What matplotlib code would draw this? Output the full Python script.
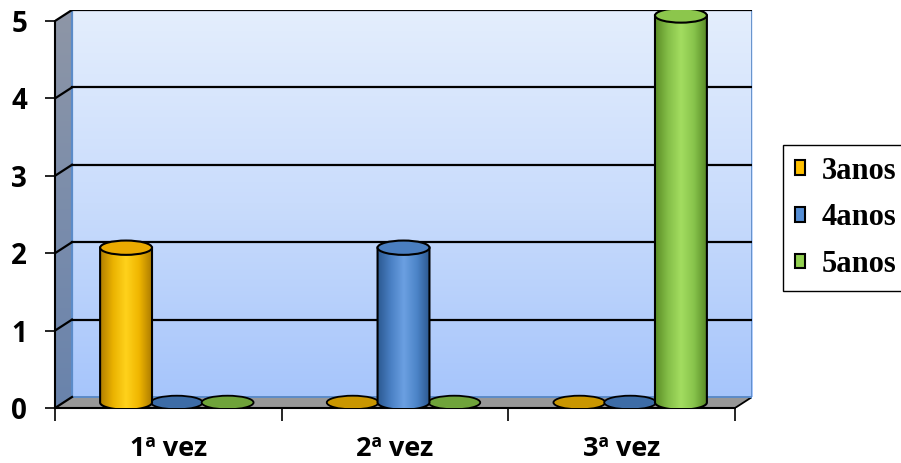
import numpy as np
import matplotlib
matplotlib.use("Agg")
import matplotlib.pyplot as plt
from matplotlib.patches import Polygon, Ellipse, PathPatch, Patch
from matplotlib.path import Path
from matplotlib.colors import LinearSegmentedColormap

# data
categories = ["1ª vez", "2ª vez", "3ª vez"]
series_names = ["3anos", "4anos", "5anos"]
anos3 = [2, 0, 0]
anos4 = [0, 2, 0]
anos5 = [0, 0, 5]
yticks = [0, 1, 2, 3, 4, 5]

# styling for each series: body gradient, top cap, flat (zero) disc, legend colour
body_colors = [
    ["#b07e00", "#eab200", "#ffd21c", "#f0b600", "#ad7c00"],
    ["#2c5a92", "#4a80c4", "#6ba0e2", "#4c84c8", "#2b578e"],
    ["#5a8c24", "#84be48", "#a3dd60", "#88c44c", "#588a26"],
]
top_colors = ["#eaaa00", "#4a7ec0", "#8cc64c"]
flat_colors = ["#c99600", "#3d6ca6", "#6fa33a"]
legend_colors = ["#ffc000", "#558ed5", "#92d050"]

# 3d geometry (data units)
dx = 0.075     # depth offset along x
dy = 0.142     # depth offset along y
bar_w = 0.229
ell_h = 0.185
offsets = [-0.224, 0.0, 0.224]
ymax = 5

fig = plt.figure(figsize=(9.01, 4.63), dpi=100)
ax = fig.add_axes([55 / 901, 55 / 463, 697 / 901, 398 / 463])

x0, x1 = -0.5, len(categories) - 0.5

# back wall with vertical gradient
wall_cmap = LinearSegmentedColormap.from_list("wall", ["#a6c5fb", "#c9dcfc", "#e4eefd"])
grad_v = np.linspace(0, 1, 256).reshape(-1, 1)
ax.imshow(grad_v, cmap=wall_cmap, origin="lower", aspect="auto",
          extent=[x0 + dx, x1 + dx, dy, ymax + dy], zorder=0, interpolation="bilinear")

# left side wall
side = Polygon([(x0, 0), (x0 + dx, dy), (x0 + dx, ymax + dy), (x0, ymax)],
               closed=True, fc="none", ec="none", zorder=1)
ax.add_patch(side)
side_cmap = LinearSegmentedColormap.from_list("side", ["#6983ac", "#7b8dab", "#8e96a6"])
im = ax.imshow(grad_v, cmap=side_cmap, origin="lower", aspect="auto",
               extent=[x0, x0 + dx, 0, ymax + dy], zorder=1, interpolation="bilinear")
im.set_clip_path(side)

# floor
ax.add_patch(Polygon([(x0, 0), (x0 + dx, dy), (x1 + dx, dy), (x1, 0)],
                     closed=True, fc="#979797", ec="none", zorder=1))
ax.plot([x1, x1 + dx], [0, dy], color="black", lw=1.3, zorder=2)

# wall edges
wall_edge = "#5b8bc8"
ax.plot([x0 + dx, x0 + dx], [dy, ymax + dy], color=wall_edge, lw=1.6, zorder=2)
ax.plot([x1 + dx, x1 + dx], [dy, ymax + dy], color=wall_edge, lw=2.0, zorder=2)
ax.plot([x0 + dx, x1 + dx], [dy, dy], color=wall_edge, lw=1.4, zorder=2)

# gridlines on back and side walls
for v in yticks:
    if v > 0:
        ax.plot([x0 + dx, x1 + dx], [v + dy, v + dy], color="black", lw=1.6, zorder=2)
    ax.plot([x0, x0 + dx], [v, v + dy], color="black", lw=1.6, zorder=2)


def cylinder(cx, h, cmap, topc, z):
    base = dy / 2
    left, right = cx - bar_w / 2, cx + bar_w / 2
    t = np.linspace(np.pi, 2 * np.pi, 80)
    arc = np.column_stack([cx + bar_w / 2 * np.cos(t), base + ell_h / 2 * np.sin(t)])
    verts = [(left, base + h)] + [tuple(p) for p in arc] + [(right, base + h), (left, base + h)]
    patch = PathPatch(Path(verts, closed=True), fc="none", ec="black", lw=1.5, zorder=z + 0.1)
    ax.add_patch(patch)
    grad_h = np.linspace(0, 1, 256).reshape(1, -1)
    body = ax.imshow(grad_h, cmap=cmap, aspect="auto", interpolation="bilinear",
                     extent=[left, right, base - ell_h / 2, base + h], zorder=z)
    body.set_clip_path(patch)
    ax.add_patch(Ellipse((cx, base + h), bar_w, ell_h, fc=topc, ec="black", lw=1.5, zorder=z + 0.2))


def flat_disc(cx, color, z):
    ax.add_patch(Ellipse((cx, dy / 2), bar_w, ell_h * 0.95, fc=color, ec="black", lw=1.3, zorder=z))


all_series = [anos3, anos4, anos5]
for s, vals in enumerate(all_series):
    cmap = LinearSegmentedColormap.from_list(f"c{s}", body_colors[s])
    for i, v in enumerate(vals):
        cx = i + offsets[s] + dx / 2
        if v > 0:
            cylinder(cx, v, cmap, top_colors[s], 5 + s)
        else:
            flat_disc(cx, flat_colors[s], 3 + s)

# axes, spines and ticks
ax.set_xlim(x0, x1 + dx)
ax.set_ylim(0, ymax + dy)
for side_name in ["top", "right"]:
    ax.spines[side_name].set_visible(False)
ax.spines["left"].set_bounds(0, ymax)
ax.spines["bottom"].set_bounds(x0, x1)
ax.spines["left"].set_linewidth(1.5)
ax.spines["bottom"].set_linewidth(1.5)
ax.spines["left"].set_zorder(2.5)
ax.spines["bottom"].set_zorder(2.5)

tick_font = dict(family="Open Sans", weight="bold", size=20)
ax.set_yticks(yticks)
ax.set_yticklabels([str(v) for v in yticks], fontdict=tick_font)
ax.tick_params(axis="y", length=7, width=1.2, pad=13, direction="out")

ax.set_xticks(range(len(categories)))
ax.set_xticklabels(categories, fontdict=dict(family="Open Sans", weight="bold", size=19.5))
ax.set_xticks(np.arange(x0, x1 + 0.01, 1.0), minor=True)
ax.tick_params(axis="x", which="major", length=0, pad=20)
ax.tick_params(axis="x", which="minor", length=9, width=1.2, direction="out")

# legend
handles = [Patch(fc=c, ec="black", lw=1.5, label=n) for c, n in zip(legend_colors, series_names)]
leg = fig.legend(handles=handles, loc="upper left",
                 bbox_to_anchor=(783 / 901, 1 - 145 / 463), bbox_transform=fig.transFigure,
                 prop=dict(family="Liberation Serif", weight="bold", size=22),
                 frameon=True, fancybox=False, edgecolor="black", framealpha=1,
                 borderpad=0.38, handlelength=0.35, handleheight=0.35, handletextpad=0.55,
                 labelspacing=0.58, borderaxespad=0)
leg.get_frame().set_linewidth(1.0)

fig.savefig("out.png", dpi=100)
